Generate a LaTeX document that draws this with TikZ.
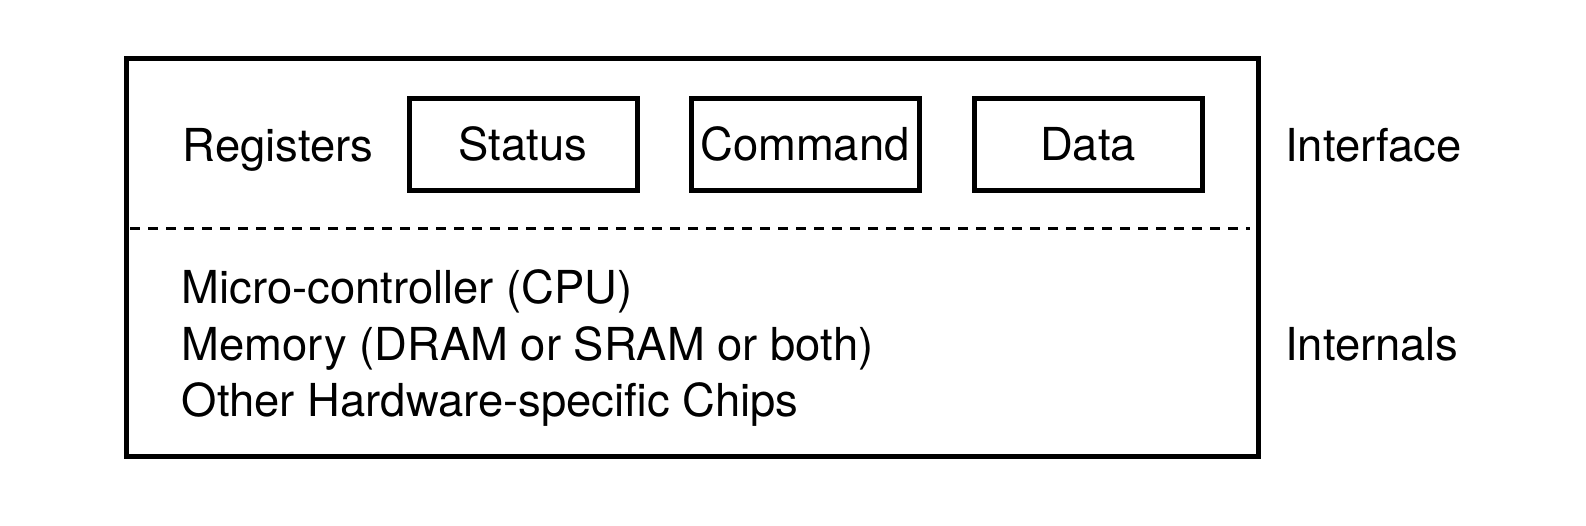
\documentclass[tikz,border=0pt]{standalone}
\usepackage{fontspec}
\setmainfont{TeX Gyre Heros}
\begin{document}
\begin{tikzpicture}[x=1pt,y=-1pt,
  every node/.style={font=\fontsize{45.4}{56}\selectfont, inner sep=0pt},
  regbox/.style={draw, line width=5pt, minimum width=228pt, minimum height=92pt},
  lbl/.style={anchor=base west},
  sep/.style={line width=3pt, dash pattern=on 10pt off 8pt}]
\useasboundingbox (0,0) rectangle (1586,525);
\node[draw, line width=5pt, minimum width=1131.6pt, minimum height=397.3pt] (device) at (692.2,257.35) {};
\node[regbox] (status) at (523,144) {Status};
\node[regbox] (command) at (805,144) {Command};
\node[regbox] (data) at (1088,144) {Data};
\node[lbl] (registers) at (182.5,161.5) {Registers};
\node[lbl] (interface) at (1285,161.5) {Interface};
\coordinate (dl) at (130,228.6);
\coordinate (dr) at (1250,228.6);
\draw[sep] (dl) -- (dr);
\node[lbl] (cpu) at (181.5,303.5) {Micro-controller (CPU)};
\node[lbl] (mem) at (181.5,360) {Memory (DRAM or SRAM or both)};
\node[lbl] (chips) at (181.5,416.5) {Other Hardware-specific Chips};
\node[lbl] (internals) at (1285,360) {Internals};
\end{tikzpicture}
\end{document}
